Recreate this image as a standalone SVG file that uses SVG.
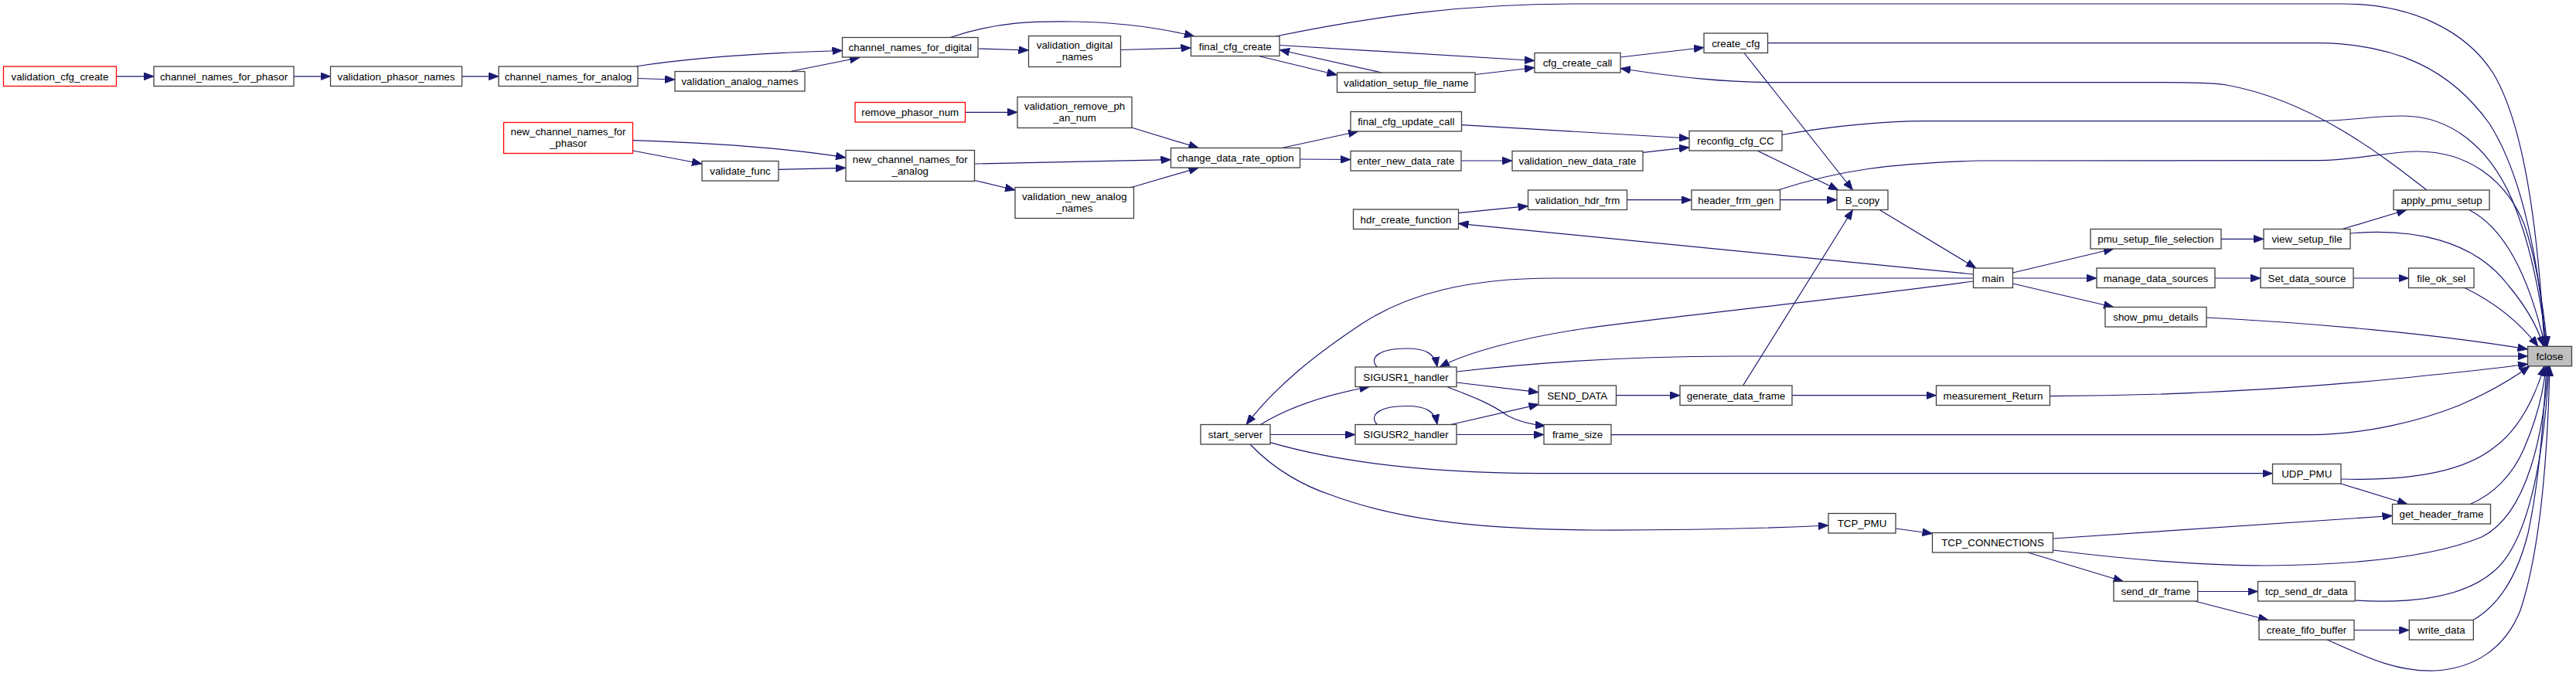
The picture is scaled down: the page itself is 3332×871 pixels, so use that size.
<svg xmlns="http://www.w3.org/2000/svg" width="3332" height="871" viewBox="0 0 3332 871">
<style>
.node rect{fill:#ffffff;stroke:#404040;stroke-width:1.3}
.node.trunc rect{stroke:#ff0000}
.node.focus rect{fill:#bfbfbf}
.node text{font-family:"Liberation Sans",Arial,sans-serif;font-size:13.33px;text-anchor:middle;fill:#000000}
.edge path{fill:none;stroke:#191970;stroke-width:1.2;marker-end:url(#arr)}
</style>
<defs>
<marker id="arr" viewBox="0 0 13 10" refX="13" refY="5" markerWidth="13" markerHeight="10" markerUnits="userSpaceOnUse" orient="auto">
<path d="M0,0 L13,5 L0,10 z" fill="#191970" stroke="#191970" stroke-width="0.8"/>
</marker>
</defs>
<rect x="0" y="0" width="3332" height="871" fill="#ffffff"/>
<g id="edges" class="edge">
<path d="M150.5,98.8 L199,98.8"/>
<path d="M380,98.8 L427.5,98.8"/>
<path d="M597.5,98.8 L645,98.8"/>
<path d="M822,86 C900,74 1000,68 1089.5,65.5"/>
<path d="M825,101.5 L873,103"/>
<path d="M1022,92.5 L1112,74.5"/>
<path d="M1265,63 L1330.5,65"/>
<path d="M1229,48.5 C1290,28 1340,27 1390,28 C1450,29 1500,36 1545,47"/>
<path d="M1449.5,64.5 L1540.5,62"/>
<path d="M1650,47 C1780,20 1900,5 2035,5 L3030,5 C3120,5 3190,40 3225,95 C3270,170 3285,330 3291,448.3"/>
<path d="M1628,72.5 L1729.5,97"/>
<path d="M1787,94 L1655,64.5"/>
<path d="M1655,58.5 L1985,78.5"/>
<path d="M1908,96.5 L1985,87.5"/>
<path d="M2096,74 L2204,61.5"/>
<path d="M3139,246 C3080,200 2990,130 2880,110 C2860,107 2830,106.7 2796,106.7 L2300,106.7 C2230,106.7 2170,100 2096,88.5"/>
<path d="M2286.5,55.7 L3000,55.7 C3100,57 3170,90 3220,160 C3265,230 3285,350 3293,448.3"/>
<path d="M2256,68.5 L2396.5,246"/>
<path d="M1658,191.5 L1757,170"/>
<path d="M1681.5,206 L1747,206.5"/>
<path d="M1890,208 L1956,208"/>
<path d="M2125,197.3 L2185,190.7"/>
<path d="M1890.5,161.7 L2185,179"/>
<path d="M2305,174.5 C2360,165 2420,157 2490,156.7 L3000,156.7 C3040,156 3070,150 3107,150 C3170,150 3220,190 3250,260 C3275,320 3287,390 3294,448.3"/>
<path d="M2273,195 L2378,246"/>
<path d="M2302.5,258.7 L2376,258.7"/>
<path d="M2104.5,258.7 L2188,258.7"/>
<path d="M1886.5,275.7 L1976.5,266.7"/>
<path d="M2552.5,355 L1886.5,289.3"/>
<path d="M2300,246 C2380,220 2440,212 2560,208 L3000,207.7 C3050,207 3090,196 3127,196 C3190,196 3240,230 3265,290 C3282,340 3290,400 3295,448.3"/>
<path d="M2431,271.5 L2556,347"/>
<path d="M2254.5,499 L2396.5,271.5"/>
<path d="M2603.5,353 L2734,322"/>
<path d="M2603.5,360 L2712,360"/>
<path d="M2603.5,367 L2734,397.5"/>
<path d="M2873,309.3 L2928,309.3"/>
<path d="M3029.7,296.5 L3113,271.5"/>
<path d="M3040,302 C3120,295 3200,310 3245,370 C3270,400 3283,425 3290,448.3"/>
<path d="M3193.5,271.5 C3240,295 3272,360 3292,448.3"/>
<path d="M2865,360 L2924,360"/>
<path d="M3044,360 L3115.5,360"/>
<path d="M3188,372.5 C3220,388 3255,412 3283,448.3"/>
<path d="M2854,411 C2990,418 3150,432 3269.5,452"/>
<path d="M2552.5,360 L2010,360 C1900,360 1820,380 1760,420 C1700,460 1650,500 1612,549.5"/>
<path d="M2552.5,364 C2400,385 2200,405 2050,425 C1970,437 1900,455 1862,475"/>
<path d="M1781,475 C1770,462 1785,451 1820,451 C1845,451 1856,458 1859,475"/>
<path d="M1884,481 C1980,470 2100,461 2240,461 L3269.5,461"/>
<path d="M1884,495 L1990,507.7"/>
<path d="M1871.5,500.5 C1900,512 1925,520 1950,538 C1965,546 1985,550 1999,551"/>
<path d="M1781,549.5 C1770,536.5 1785,525.5 1820,525.5 C1845,525.5 1856,532.5 1859,549.5"/>
<path d="M1876.5,549.5 L1990.5,523.3"/>
<path d="M1884,562.5 L1997,562.5"/>
<path d="M1630.5,549.5 C1670,525 1720,510 1771.5,500.5"/>
<path d="M1643,562.5 L1753,562.5"/>
<path d="M1643,572.7 C1720,595 1830,612 1990,612.7 L2939.5,612.7"/>
<path d="M1617,575 C1650,610 1690,630 1720,640 C1800,670 1900,685 2060,686 C2200,686.5 2300,683 2365,680"/>
<path d="M2090.5,511.7 L2173,511.7"/>
<path d="M2318,511.7 L2504.5,511.7"/>
<path d="M2651.5,512.7 C2800,512 2950,505 3100,490 C3180,482 3230,477 3270,471"/>
<path d="M2084,562.7 L2990,562.7 C3060,562 3130,545 3180,525 C3220,508 3250,490 3272,473.8"/>
<path d="M3028,620 C3100,622 3180,615 3225,580 C3260,555 3280,510 3291,473.8"/>
<path d="M3028,626 L3114,652.5"/>
<path d="M3195,652.5 C3225,640 3250,615 3265,580 C3280,545 3290,510 3293,473.8"/>
<path d="M2452,684 L2499.5,690.5"/>
<path d="M2655.7,697 L3094.5,667.5"/>
<path d="M2655.7,712 C2760,725 2850,732 2930,732 C3050,731 3150,720 3210,695 C3270,665 3290,560 3296,473.8"/>
<path d="M2623,715 L2746.5,752.5"/>
<path d="M2842.7,765.5 L2920.5,765.5"/>
<path d="M2839,778 L2934,802.5"/>
<path d="M3046.5,777 C3130,782 3190,770 3225,740 C3275,700 3292,570 3297,473.8"/>
<path d="M3045,815.5 L3116.3,815.5"/>
<path d="M3010,828 C3060,850 3100,870 3150,868 C3200,865 3240,840 3260,790 C3290,700 3296,560 3298,473.8"/>
<path d="M3198,803 C3230,785 3255,750 3270,690 C3285,620 3290,540 3294,473.8"/>
<path d="M818.5,181.7 C920,185 1020,192 1094,204"/>
<path d="M818.5,195 L908,212"/>
<path d="M1007,219.3 L1094,217.3"/>
<path d="M1260.7,212 L1514.5,206.7"/>
<path d="M1260.7,233.5 L1313,246"/>
<path d="M1463.5,242.5 L1550.5,217"/>
<path d="M1248.5,145.3 L1316,145.3"/>
<path d="M1463.5,165 L1550.5,191.5"/>
</g>
<g id="node-validation_cfg_create" class="node trunc"><rect x="4.5" y="86" width="146" height="25.5"/><text x="77.5" y="103.5">validation_cfg_create</text></g>
<g id="node-channel_names_for_phasor" class="node"><rect x="199" y="86" width="181" height="25.5"/><text x="289.5" y="103.5">channel_names_for_phasor</text></g>
<g id="node-validation_phasor_names" class="node"><rect x="427.5" y="86" width="170" height="25.5"/><text x="512.5" y="103.5">validation_phasor_names</text></g>
<g id="node-channel_names_for_analog" class="node"><rect x="645" y="86" width="180" height="25.5"/><text x="735" y="103.5">channel_names_for_analog</text></g>
<g id="node-new_channel_names_for_phasor" class="node trunc"><rect x="651.5" y="158.5" width="167" height="40"/><text x="735" y="175">new_channel_names_for</text><text x="735" y="189.5">_phasor</text></g>
<g id="node-channel_names_for_digital" class="node"><rect x="1089.5" y="48.5" width="175.5" height="25.5"/><text x="1177.25" y="66">channel_names_for_digital</text></g>
<g id="node-validation_analog_names" class="node"><rect x="873" y="92.5" width="168" height="25.5"/><text x="957" y="110">validation_analog_names</text></g>
<g id="node-validation_digital_names" class="node"><rect x="1330.5" y="46.5" width="119" height="40"/><text x="1390" y="63">validation_digital</text><text x="1390" y="77.5">_names</text></g>
<g id="node-final_cfg_create" class="node"><rect x="1540.5" y="47" width="114.5" height="25.5"/><text x="1597.75" y="64.5">final_cfg_create</text></g>
<g id="node-remove_phasor_num" class="node trunc"><rect x="1106" y="132.5" width="142.5" height="25.5"/><text x="1177.25" y="150">remove_phasor_num</text></g>
<g id="node-validation_remove_phan_num" class="node"><rect x="1316" y="125.5" width="148" height="40"/><text x="1390" y="142">validation_remove_ph</text><text x="1390" y="156.5">_an_num</text></g>
<g id="node-change_data_rate_option" class="node"><rect x="1514.5" y="191.5" width="167" height="25.5"/><text x="1598" y="209">change_data_rate_option</text></g>
<g id="node-validate_func" class="node"><rect x="908" y="208.5" width="99" height="25.5"/><text x="957.5" y="226">validate_func</text></g>
<g id="node-new_channel_names_for_analog" class="node"><rect x="1094" y="194.5" width="166.5" height="40"/><text x="1177.25" y="211">new_channel_names_for</text><text x="1177.25" y="225.5">_analog</text></g>
<g id="node-validation_new_analog_names" class="node"><rect x="1313" y="242.5" width="153.5" height="40"/><text x="1389.75" y="259">validation_new_analog</text><text x="1389.75" y="273.5">_names</text></g>
<g id="node-create_cfg" class="node"><rect x="2204" y="43" width="82.5" height="25.5"/><text x="2245.25" y="60.5">create_cfg</text></g>
<g id="node-cfg_create_call" class="node"><rect x="1985" y="68.5" width="111" height="25.5"/><text x="2040.5" y="86">cfg_create_call</text></g>
<g id="node-validation_setup_file_name" class="node"><rect x="1729.5" y="94" width="178.5" height="25.5"/><text x="1818.75" y="111.5">validation_setup_file_name</text></g>
<g id="node-final_cfg_update_call" class="node"><rect x="1747" y="144.5" width="143.5" height="25.5"/><text x="1818.75" y="162">final_cfg_update_call</text></g>
<g id="node-reconfig_cfg_CC" class="node"><rect x="2185" y="169.5" width="120" height="25.5"/><text x="2245" y="187">reconfig_cfg_CC</text></g>
<g id="node-enter_new_data_rate" class="node"><rect x="1747" y="195.5" width="143" height="25.5"/><text x="1818.5" y="213">enter_new_data_rate</text></g>
<g id="node-validation_new_data_rate" class="node"><rect x="1956" y="195.5" width="169" height="25.5"/><text x="2040.5" y="213">validation_new_data_rate</text></g>
<g id="node-validation_hdr_frm" class="node"><rect x="1976.5" y="246" width="128" height="25.5"/><text x="2040.5" y="263.5">validation_hdr_frm</text></g>
<g id="node-header_frm_gen" class="node"><rect x="2188" y="246" width="114.5" height="25.5"/><text x="2245.25" y="263.5">header_frm_gen</text></g>
<g id="node-B_copy" class="node"><rect x="2376" y="246" width="66" height="25.5"/><text x="2409" y="263.5">B_copy</text></g>
<g id="node-hdr_create_function" class="node"><rect x="1750.5" y="271" width="136" height="25.5"/><text x="1818.5" y="288.5">hdr_create_function</text></g>
<g id="node-apply_pmu_setup" class="node"><rect x="3096" y="246" width="124" height="25.5"/><text x="3158" y="263.5">apply_pmu_setup</text></g>
<g id="node-pmu_setup_file_selection" class="node"><rect x="2704" y="296.5" width="169" height="25.5"/><text x="2788.5" y="314">pmu_setup_file_selection</text></g>
<g id="node-view_setup_file" class="node"><rect x="2928" y="296.5" width="112" height="25.5"/><text x="2984" y="314">view_setup_file</text></g>
<g id="node-main" class="node"><rect x="2552.5" y="347" width="51" height="25.5"/><text x="2578" y="364.5">main</text></g>
<g id="node-manage_data_sources" class="node"><rect x="2712" y="347" width="153" height="25.5"/><text x="2788.5" y="364.5">manage_data_sources</text></g>
<g id="node-Set_data_source" class="node"><rect x="2924" y="347" width="120" height="25.5"/><text x="2984" y="364.5">Set_data_source</text></g>
<g id="node-file_ok_sel" class="node"><rect x="3115.5" y="347" width="84.5" height="25.5"/><text x="3157.75" y="364.5">file_ok_sel</text></g>
<g id="node-show_pmu_details" class="node"><rect x="2723" y="397.5" width="131" height="25.5"/><text x="2788.5" y="415">show_pmu_details</text></g>
<g id="node-fclose" class="node focus"><rect x="3269.5" y="448.3" width="57" height="25.5"/><text x="3298" y="465.8">fclose</text></g>
<g id="node-SIGUSR1_handler" class="node"><rect x="1753" y="475" width="131" height="25.5"/><text x="1818.5" y="492.5">SIGUSR1_handler</text></g>
<g id="node-SEND_DATA" class="node"><rect x="1990" y="499" width="100.5" height="25.5"/><text x="2040.25" y="516.5">SEND_DATA</text></g>
<g id="node-generate_data_frame" class="node"><rect x="2173" y="499" width="145" height="25.5"/><text x="2245.5" y="516.5">generate_data_frame</text></g>
<g id="node-measurement_Return" class="node"><rect x="2504.5" y="499" width="147" height="25.5"/><text x="2578" y="516.5">measurement_Return</text></g>
<g id="node-start_server" class="node"><rect x="1553" y="549.5" width="90" height="25.5"/><text x="1598" y="567">start_server</text></g>
<g id="node-SIGUSR2_handler" class="node"><rect x="1753" y="549.5" width="131" height="25.5"/><text x="1818.5" y="567">SIGUSR2_handler</text></g>
<g id="node-frame_size" class="node"><rect x="1997" y="549.5" width="87" height="25.5"/><text x="2040.5" y="567">frame_size</text></g>
<g id="node-UDP_PMU" class="node"><rect x="2939.5" y="600.5" width="88.5" height="25.5"/><text x="2983.75" y="618">UDP_PMU</text></g>
<g id="node-get_header_frame" class="node"><rect x="3094.5" y="652.5" width="127" height="25.5"/><text x="3158" y="670">get_header_frame</text></g>
<g id="node-TCP_PMU" class="node"><rect x="2365" y="664.5" width="87" height="25.5"/><text x="2408.5" y="682">TCP_PMU</text></g>
<g id="node-TCP_CONNECTIONS" class="node"><rect x="2499.5" y="689.5" width="156" height="25.5"/><text x="2577.5" y="707">TCP_CONNECTIONS</text></g>
<g id="node-send_dr_frame" class="node"><rect x="2734" y="752.5" width="108.7" height="25.5"/><text x="2788.35" y="770">send_dr_frame</text></g>
<g id="node-tcp_send_dr_data" class="node"><rect x="2920.5" y="752.5" width="125.7" height="25.5"/><text x="2983.35" y="770">tcp_send_dr_data</text></g>
<g id="node-create_fifo_buffer" class="node"><rect x="2922" y="802.5" width="123" height="25.5"/><text x="2983.5" y="820">create_fifo_buffer</text></g>
<g id="node-write_data" class="node"><rect x="3116.3" y="802.5" width="83" height="25.5"/><text x="3157.8" y="820">write_data</text></g>
</svg>
